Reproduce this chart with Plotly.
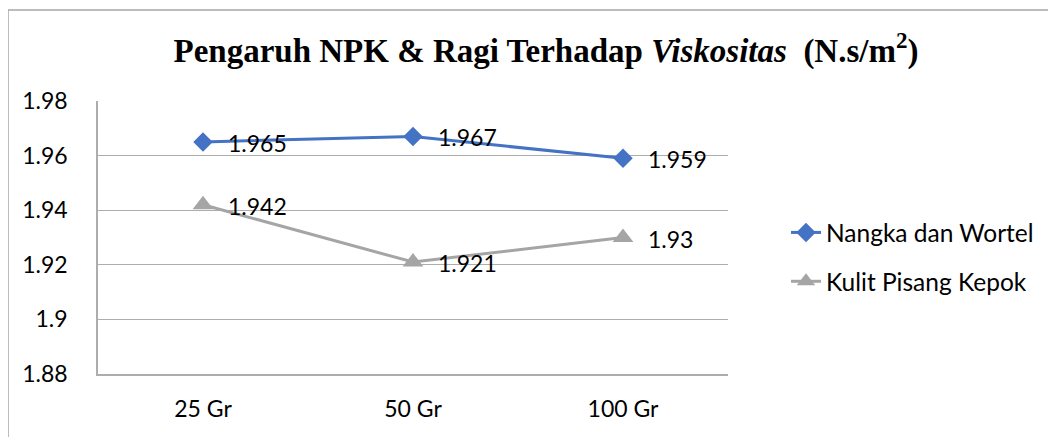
import plotly.graph_objects as go

categories = ["25 Gr", "50 Gr", "100 Gr"]
series_names = ["Nangka dan Wortel", "Kulit Pisang Kepok"]
nangka = [1.965, 1.967, 1.959]
kulit = [1.942, 1.921, 1.93]
y_ticks = [1.88, 1.9, 1.92, 1.94, 1.96, 1.98]
y_tick_labels = ["1.88", "1.9", "1.92", "1.94", "1.96", "1.98"]

FONT = "Lato"
BLUE = "#4472C4"
GRAY = "#A5A5A5"
GRID = "#ADADAD"

# page body adds an 8px offset; plot area in figure coords
PL, PR, PT, PB = 90, 720, 93, 366
PW, PH = PR - PL, PB - PT

fig = go.Figure()
fig.add_trace(go.Scatter(
    x=categories, y=nangka, name=series_names[0], mode="lines+markers",
    line=dict(color=BLUE, width=3),
    marker=dict(symbol="diamond", size=15, color=BLUE),
    legendgroup="a",
))
fig.add_trace(go.Scatter(
    x=categories, y=kulit, name=series_names[1], mode="lines+markers",
    line=dict(color=GRAY, width=3),
    marker=dict(symbol="triangle-up", size=18, color=GRAY),
    legendgroup="b",
))

for vals in (nangka, kulit):
    for c, v in zip(categories, vals):
        fig.add_annotation(x=c, y=v, text=f"{v:g}", showarrow=False,
                           xanchor="left", yanchor="middle", xshift=23, yshift=-1,
                           font=dict(family=FONT, size=23, color="#000000"))

# outer chart border (extends beyond visible area on right/bottom)
bx = (0 - PL) / PW
by = (PB - 2) / PH
fig.add_shape(type="line", xref="paper", yref="paper",
              x0=bx, x1=bx, y0=-1, y1=by,
              line=dict(color="#A6A6A6", width=1.5))
fig.add_shape(type="line", xref="paper", yref="paper",
              x0=bx, x1=2, y0=by, y1=by,
              line=dict(color="#A6A6A6", width=1.5))

fig.update_layout(
    width=1056, height=437,
    margin=dict(l=PL, r=1056 - PR, t=PT, b=437 - PB, autoexpand=False),
    paper_bgcolor="white", plot_bgcolor="white",
    title=dict(
        text="<b>Pengaruh NPK &amp; Ragi Terhadap <i>Viskositas</i>&nbsp; (N.s/m<sup>2</sup>)</b>",
        font=dict(family="Liberation Serif", size=33, color="#000000"),
        x=538 / 1056, xanchor="center", xref="container",
        y=1 - 42 / 437, yanchor="middle", yref="container",
    ),
    font=dict(family=FONT, size=23, color="#000000"),
    legend=dict(
        x=(778 - PL) / PW, y=(PB - 202) / PH, xanchor="left", yanchor="top",
        font=dict(family=FONT, size=24.5, color="#000000"),
        tracegroupgap=14, bgcolor="rgba(0,0,0,0)",
    ),
    showlegend=True,
)
fig.update_xaxes(
    type="category", range=[-0.5, 2.5], showgrid=False, showline=True,
    linecolor=GRID, linewidth=1.5, automargin=False,
    ticks="", tickfont=dict(family=FONT, size=23), ticklabelstandoff=14,
)
fig.update_yaxes(
    range=[1.88, 1.98], tickvals=y_ticks, ticktext=y_tick_labels,
    showgrid=True, gridcolor=GRID, gridwidth=1.3, automargin=False,
    showline=True, linecolor=GRID, linewidth=1.5, zeroline=False,
    ticks="", tickfont=dict(family=FONT, size=23), ticklabelstandoff=24,
)

fig.write_html("out.html")
